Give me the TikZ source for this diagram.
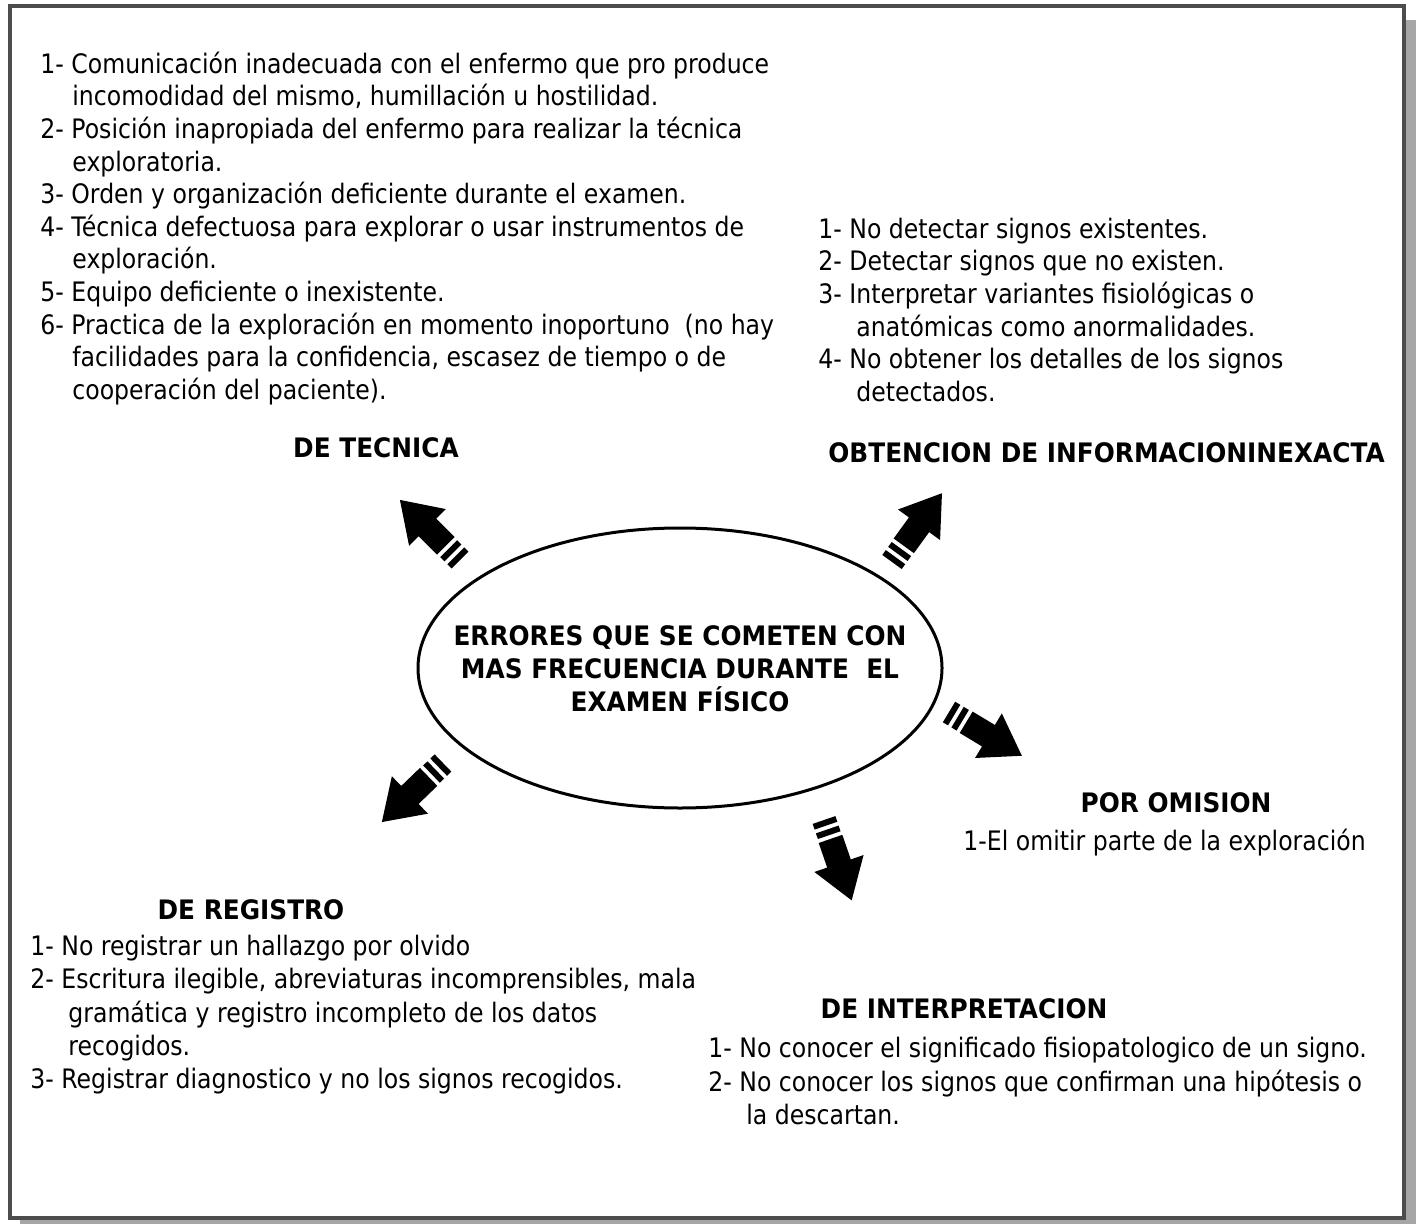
\documentclass[tikz,border=0pt]{standalone}
\usepackage{fontspec}
\usetikzlibrary{shapes.geometric}
\setmainfont{DejaVu Sans}[FakeStretch=0.88, BoldFeatures={FakeStretch=0.925}]
\newcommand{\sig}[1][19pt]{\hspace*{#1}}
\tikzset{
  listtxt/.style={anchor=north west, inner sep=0pt, align=left,
    font=\fontsize{13.4}{16.3}\selectfont},
  headtxt/.style={anchor=base, inner sep=0pt, font=\bfseries\fontsize{13.4}{16.3}\selectfont},
  pics/errarrow/.style={code={
    \fill (0,-12) rectangle (6,12);
    \fill (10,-12) rectangle (16,12);
    \fill (20,-12.5) -- (46,-12.5) -- (46,-26) -- (85,0) -- (46,26) -- (46,12.5) -- (20,12.5) -- cycle;
  }}
}
\begin{document}
\begin{tikzpicture}[x=0.5pt, y=-0.5pt]
\useasboundingbox (0,0) rectangle (1416,1224);

% marco con sombra
\fill[gray!70] (1406,20) rectangle (1416,1224);
\fill[gray!70] (20,1220) rectangle (1416,1224);
\draw[line width=1.8pt, draw=gray!60!black] (10,6) rectangle (1404,1218);

% centro
\node[draw, ellipse, line width=1.5pt, minimum width=262pt, minimum height=140pt, inner sep=0pt] (centro) at (680,668) {};
\node[inner sep=0pt, align=center, font=\bfseries\fontsize{13.4}{16.5}\selectfont] (titulo) at (680,669)
  {ERRORES QUE SE COMETEN CON\\MAS FRECUENCIA DURANTE\ \ EL\\EXAMEN FÍSICO};

% DE TECNICA
\node[listtxt] (tecLista) at (40,50) {\strut 1- Comunicación inadecuada con el enfermo que pro produce\\
  \sig[16pt]incomodidad del mismo, humillación u hostilidad.\\
  2- Posición inapropiada del enfermo para realizar la técnica\\
  \sig[16pt]exploratoria.\\
  3- Orden y organización deficiente durante el examen.\\
  4- Técnica defectuosa para explorar o usar instrumentos de\\
  \sig[16pt]exploración.\\
  5- Equipo deficiente o inexistente.\\
  6- Practica de la exploración en momento inoportuno\ \ (no hay\\
  \sig[16pt]facilidades para la confidencia, escasez de tiempo o de\\
  \sig[16pt]cooperación del paciente).};
\node[headtxt] (tec) at (376,457) {DE TECNICA};

% OBTENCION DE INFORMACION INEXACTA
\node[listtxt] (infLista) at (818,215) {\strut 1- No detectar signos existentes.\\
  2- Detectar signos que no existen.\\
  3- Interpretar variantes fisiológicas o\\
  \sig anatómicas como anormalidades.\\
  4- No obtener los detalles de los signos\\
  \sig detectados.};
\node[headtxt, anchor=base west] (inf) at (828,462) {OBTENCION DE INFORMACIONINEXACTA};

% POR OMISION
\node[headtxt] (omi) at (1176,812) {POR OMISION};
\node[listtxt, anchor=base west] (omiLista) at (963,850) {1-El omitir parte de la exploración};

% DE REGISTRO
\node[headtxt] (reg) at (251,919) {DE REGISTRO};
\node[listtxt, font=\fontsize{13.4}{16.6}\selectfont] (regLista) at (30,932) {\strut 1- No registrar un hallazgo por olvido\\
  2- Escritura ilegible, abreviaturas incomprensibles, mala\\
  \sig gramática y registro incompleto de los datos\\
  \sig recogidos.\\
  3- Registrar diagnostico y no los signos recogidos.};

% DE INTERPRETACION
\node[headtxt] (int) at (964,1018) {DE INTERPRETACION};
\node[listtxt, font=\fontsize{13.4}{16.7}\selectfont] (intLista) at (708,1034) {\strut 1- No conocer el significado fisiopatologico de un signo.\\
  2- No conocer los signos que confirman una hipótesis o\\
  \sig la descartan.};

% flechas
\coordinate (aTec) at (460,560);
\coordinate (aInf) at (892,562);
\coordinate (aOmi) at (949,712);
\coordinate (aReg) at (443,763);
\coordinate (aInt) at (824,820);
\pic[rotate=135] at (aTec) {errarrow};
\pic[rotate=54] at (aInf) {errarrow};
\pic[rotate=-31] at (aOmi) {errarrow};
\pic[rotate=-136] at (aReg) {errarrow};
\pic[rotate=-71] at (aInt) {errarrow};
\end{tikzpicture}
\end{document}
